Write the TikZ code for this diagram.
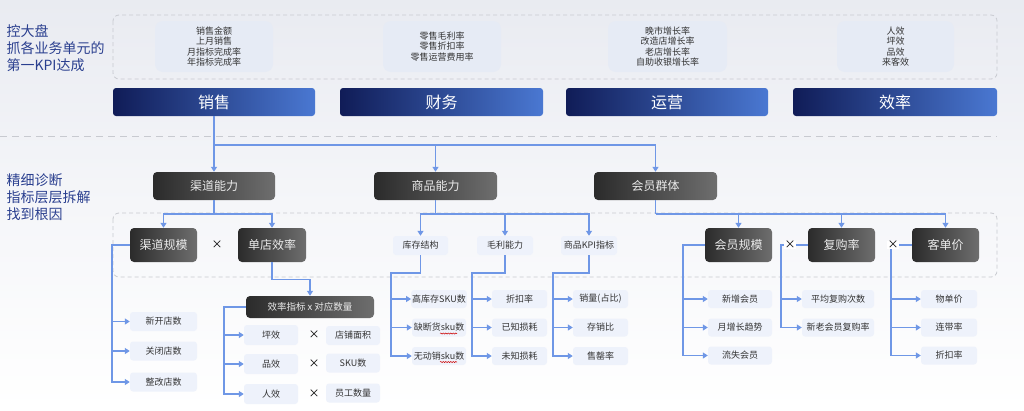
\documentclass[tikz,border=0pt]{standalone}
\usepackage{fontspec}
\setmainfont{Noto Sans CJK SC}
\usetikzlibrary{arrows.meta,decorations.pathmorphing}
\definecolor{linec}{HTML}{6F97E6}
\definecolor{navyL}{HTML}{101C57}
\definecolor{navyR}{HTML}{4A78D2}
\definecolor{darkL}{HTML}{2B2B2B}
\definecolor{darkR}{HTML}{6E6E6E}
\definecolor{topfill}{HTML}{E6EBF5}
\definecolor{lightfill}{HTML}{EEF2FB}
\definecolor{txt}{HTML}{333333}
\definecolor{labelc}{HTML}{2A3F8F}
\definecolor{dashc}{HTML}{C8CAD0}
\definecolor{bgtop}{HTML}{E9EBF1}
\definecolor{bgmid}{HTML}{F5F6F9}
\begin{document}
\begin{tikzpicture}[x=1pt,y=-1pt,
  topbox/.style={rounded corners=8pt, fill=topfill, minimum width=118pt, minimum height=51pt, align=center, text=txt, font=\fontsize{9}{10.5}\selectfont},
  bar/.style={rounded corners=3pt, left color=navyL, right color=navyR, minimum width=202pt, minimum height=28pt, text=white, font=\fontsize{16}{18}\selectfont},
  darkbox/.style={rounded corners=4pt, left color=darkL, right color=darkR, text=white!92!black, minimum width=122pt, minimum height=28pt, font=\fontsize{12}{14}\selectfont},
  darksm/.style={darkbox, minimum width=67pt, minimum height=34pt},
  lightbox/.style={rounded corners=3pt, fill=lightfill, minimum height=19pt, inner sep=1pt, text=txt, font=\fontsize{9}{11}\selectfont},
  conn/.style={draw=linec, line width=1.2pt},
  arr/.style={conn, -{Triangle[width=6pt,length=5pt]}},
  sidelabel/.style={anchor=west, align=left, text=labelc, font=\fontsize{14}{17}\selectfont},
  timesx/.style={font=\fontsize{11}{11}\selectfont, text=black, inner sep=0.6pt, fill=white},
  dashbox/.style={draw=dashc, dash pattern=on 4pt off 3pt, line width=0.8pt, rounded corners=6pt}
]
\useasboundingbox (0,0) rectangle (1024,410);
\shade[top color=bgtop, bottom color=white, middle color=bgmid] (0,0) rectangle (1024,410);

% ---- top section
\node[sidelabel] (lab1) at (3,48.5) {控大盘\\抓各业务单元的\\第一KPI达成};
\draw[dashbox] (113,15) rectangle (997,79);
\node[topbox] (tb1) at (214,46.5) {销售金额\\上月销售\\月指标完成率\\年指标完成率};
\node[topbox] (tb2) at (442,46.5) {零售毛利率\\零售折扣率\\零售运营费用率};
\node[topbox, minimum width=119pt] (tb3) at (667.5,46.5) {晚市增长率\\改造店增长率\\老店增长率\\自助收银增长率};
\node[topbox, minimum width=117pt] (tb4) at (895.5,46.5) {人效\\坪效\\品效\\来客效};

\node[bar] (sales) at (214,102) {销售};
\node[bar, minimum width=203pt] (fin) at (441.5,102) {财务};
\node[bar] (ops) at (667,102) {运营};
\node[bar, minimum width=204pt] (effb) at (895,102) {效率};

\draw[draw=dashc, dash pattern=on 7pt off 5pt, line width=1pt] (0,136) -- (997,136);

% ---- second section
\node[sidelabel] (lab2) at (3,197) {精细诊断\\指标层层拆解\\找到根因};

\node[darkbox] (chan) at (214,186) {渠道能力};
\node[darkbox, minimum width=123pt] (prod) at (435.5,186) {商品能力};
\node[darkbox, minimum width=123pt] (memg) at (655.5,186) {会员群体};

\coordinate (h1) at (214,145);
\draw[arr] (sales.south) -- (chan.north);
\draw[arr] (h1) -| (prod.north);
\draw[arr] (h1) -| (memg.north);

\draw[dashbox] (113,213) rectangle (997,277);

\node[darksm] (cscale) at (163.5,245) {渠道规模};
\node[darksm, minimum width=68pt] (eff) at (272,245) {单店效率};
\node[timesx, fill=none] (x1) at (217,245) {×};

\node[lightbox, minimum width=55pt] (inv) at (420.5,245.5) {库存结构};
\node[lightbox, minimum width=56pt] (gm) at (505,245.5) {毛利能力};
\node[lightbox, minimum width=56pt] (kpi) at (589,245.5) {商品KPI指标};

\node[darksm] (mscale) at (738.5,245) {会员规模};
\node[darksm] (rep) at (841.5,245) {复购率};
\node[darksm] (price) at (945.5,245) {客单价};

\coordinate (h2) at (214,214);
\draw[conn] (chan.south) -- (h2);
\draw[arr] (h2) -| (cscale.north);
\draw[arr] (h2) -| (eff.north);

\coordinate (h3) at (435.5,214);
\draw[conn] (prod.south) -- (h3);
\draw[arr] (h3) -| (inv.north);
\draw[arr] (h3) -| (gm.north);
\draw[arr] (h3) -| (kpi.north);

\coordinate (h4) at (655.5,214);
\draw[conn] (memg.south) -- (h4);
\draw[arr] (h4) -| (mscale.north);
\draw[arr] (h4) -| (rep.north);
\draw[arr] (h4) -| (price.north);

% ---- channel scale list
\coordinate (b1) at (112,245);
\node[lightbox, minimum width=67pt] (ns1) at (163.5,321.5) {新开店数};
\node[lightbox, minimum width=67pt] (ns2) at (163.5,351) {关闭店数};
\node[lightbox, minimum width=67pt] (ns3) at (163.5,382) {整改店数};
\foreach \c in {ns1,ns2,ns3} \draw[arr] (cscale.west) -- (b1) |- (\c.west);

% ---- store efficiency
\node[darkbox, minimum width=128pt, minimum height=22pt, font=\fontsize{9.5}{11}\selectfont] (effx) at (310,307) {效率指标 x 对应数量};
\draw[arr] (eff.south) -- ++(0,17) -| (effx.north);
\coordinate (b2) at (224,307);
\node[lightbox, minimum width=54pt, minimum height=20pt] (ping) at (271,335) {坪效};
\node[lightbox, minimum width=54pt, minimum height=20pt] (pin) at (271,364) {品效};
\node[lightbox, minimum width=54pt, minimum height=20pt] (ren) at (271,394) {人效};
\foreach \c in {ping,pin,ren} \draw[arr] (effx.west) -- (b2) |- (\c.west);
\node[timesx, fill=none] (x2) at (314,335) {×};
\node[timesx, fill=none] (x3) at (314,364) {×};
\node[timesx, fill=none] (x4) at (314,394) {×};
\node[lightbox, minimum width=54pt] (area) at (353,335.5) {店铺面积};
\node[lightbox, minimum width=54pt] (skun) at (353,363) {SKU数};
\node[lightbox, minimum width=54pt] (staff) at (353,393) {员工数量};

% ---- product lists
\coordinate (b3) at (391,273);
\node[lightbox, minimum width=54pt, minimum height=18pt] (i1) at (439,299) {高库存SKU数};
\node[lightbox, minimum width=54pt, minimum height=18pt] (i2) at (439,327.5) {缺断货sku数};
\node[lightbox, minimum width=54pt, minimum height=18pt] (i3) at (439,356) {无动销sku数};
\foreach \c in {i1,i2,i3} \draw[arr] (inv.south) |- (b3) |- (\c.west);
\draw[red!80!black, line width=0.5pt, decorate, decoration={snake, amplitude=0.6pt, segment length=2.5pt}] (440,333.5) -- (457,333.5);
\draw[red!80!black, line width=0.5pt, decorate, decoration={snake, amplitude=0.6pt, segment length=2.5pt}] (440,362) -- (457,362);

\coordinate (b4) at (472,273);
\node[lightbox, minimum width=55pt, minimum height=18pt] (g1) at (519.5,299) {折扣率};
\node[lightbox, minimum width=55pt, minimum height=18pt] (g2) at (519.5,327.5) {已知损耗};
\node[lightbox, minimum width=55pt, minimum height=18pt] (g3) at (519.5,356) {未知损耗};
\foreach \c in {g1,g2,g3} \draw[arr] (gm.south) |- (b4) |- (\c.west);

\coordinate (b5) at (553,273);
\node[lightbox, minimum width=55pt, minimum height=18pt] (k1) at (600.5,299) {销量(占比)};
\node[lightbox, minimum width=55pt, minimum height=18pt] (k2) at (600.5,327.5) {存销比};
\node[lightbox, minimum width=55pt, minimum height=18pt] (k3) at (600.5,356) {售罄率};
\foreach \c in {k1,k2,k3} \draw[arr] (kpi.south) |- (b5) |- (\c.west);

% ---- member lists
\coordinate (b6) at (683,245);
\node[lightbox, minimum width=64pt, minimum height=18pt] (m1) at (740,299) {新增会员};
\node[lightbox, minimum width=64pt, minimum height=18pt] (m2) at (740,327.5) {月增长趋势};
\node[lightbox, minimum width=64pt, minimum height=18pt] (m3) at (740,355.5) {流失会员};
\foreach \c in {m1,m2,m3} \draw[arr] (mscale.west) -- (b6) |- (\c.west);

\coordinate (b7) at (781,245);
\node[lightbox, minimum width=72pt, minimum height=18pt] (r1) at (838,299) {平均复购次数};
\node[lightbox, minimum width=72pt, minimum height=18pt] (r2) at (838,327.5) {新老会员复购率};
\foreach \c in {r1,r2} \draw[arr] (rep.west) -- (b7) |- (\c.west);
\node[timesx] (x5) at (790,245) {×};

\coordinate (b8) at (891,245);
\node[lightbox, minimum width=56pt, minimum height=18pt] (p1) at (949,299) {物单价};
\node[lightbox, minimum width=56pt, minimum height=18pt] (p2) at (949,327.5) {连带率};
\node[lightbox, minimum width=56pt, minimum height=18pt] (p3) at (949,355.5) {折扣率};
\foreach \c in {p1,p2,p3} \draw[arr] (price.west) -- (b8) |- (\c.west);
\node[timesx] (x6) at (893,245) {×};
\end{tikzpicture}
\end{document}
